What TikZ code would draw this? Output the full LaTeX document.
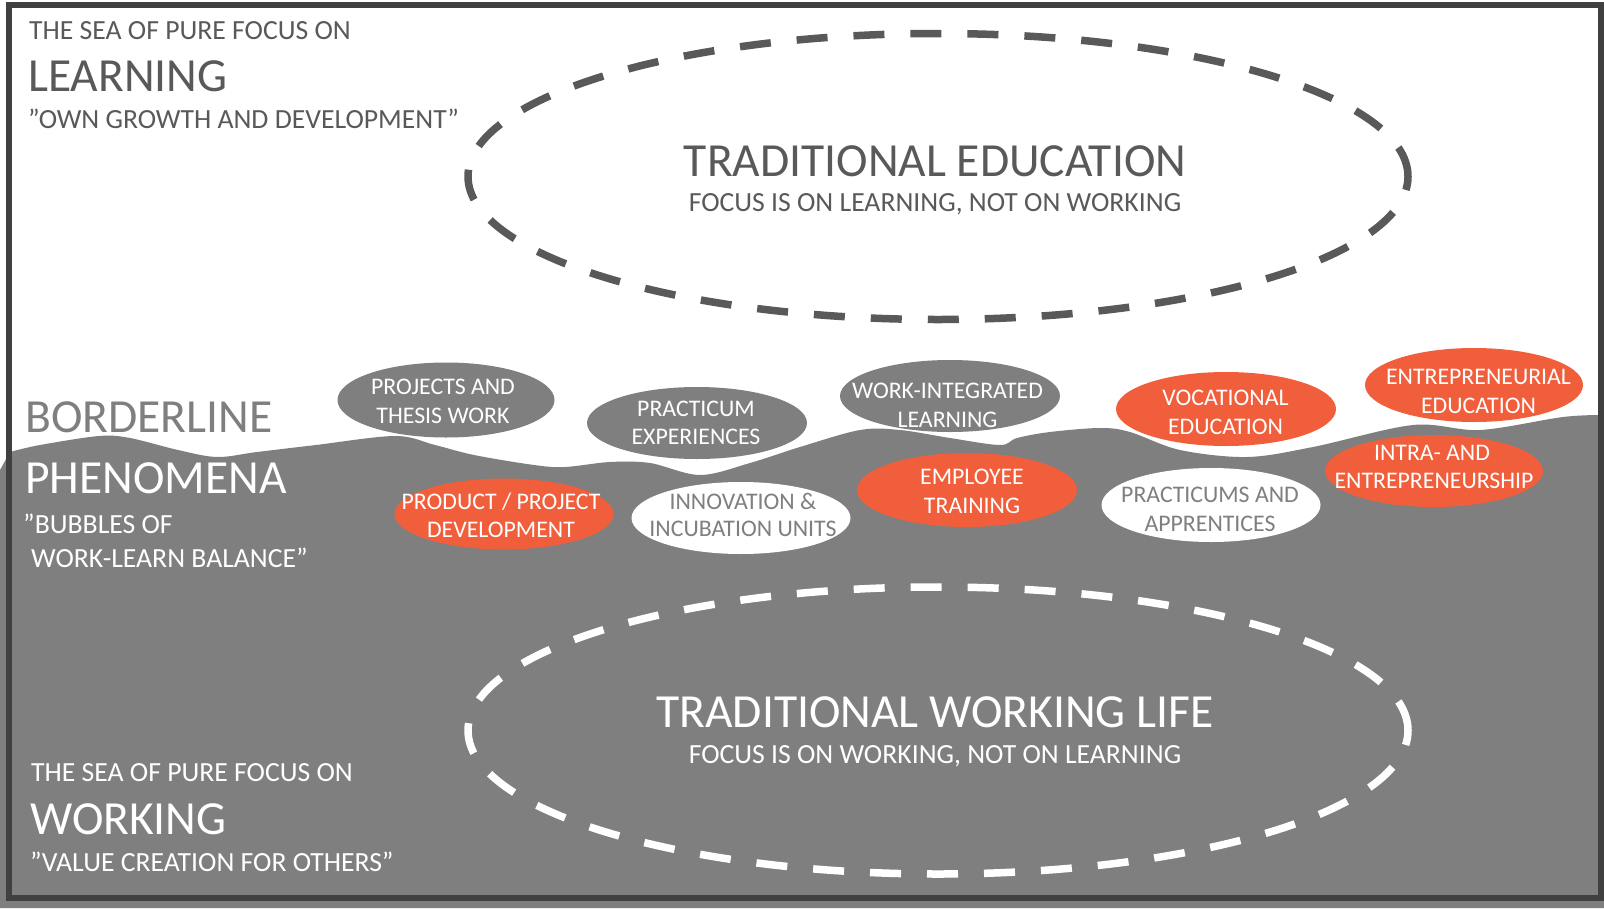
\documentclass[tikz,border=0pt]{standalone}
\usepackage{fontspec}
\setmainfont{Carlito}
\usetikzlibrary{shapes.geometric}
\definecolor{seagray}{HTML}{7F7F7F}
\definecolor{darktxt}{HTML}{595959}
\definecolor{framegray}{HTML}{404040}
\definecolor{orng}{HTML}{F15E3B}
\newcommand\myfsmall{\fontsize{27.7}{33}\selectfont}
\newcommand\myfbig{\fontsize{47.5}{57}\selectfont}
\newcommand\myfbub{\fontsize{23.8}{28}\selectfont}
\tikzset{
  bubble/.style={ellipse, inner sep=0pt},
  graybub/.style={bubble, fill=seagray},
  orangebub/.style={bubble, fill=orng},
  whitebub/.style={bubble, fill=white},
  btxt/.style={anchor=base, inner sep=0pt, font=\myfbub, text=white},
  gbtxt/.style={btxt, text=seagray},
  lbl/.style={anchor=base west, inner sep=0pt},
  ctr/.style={anchor=base, inner sep=0pt},
  dashell/.style={line width=7.5pt, dash pattern=on 31pt off 26pt}
}
\begin{document}
\begin{tikzpicture}[x=1pt,y=-1pt]
\useasboundingbox (0,0) rectangle (1604,908);
\fill[white] (0,0) rectangle (1604,908);
% gray sea with wavy border
\fill[seagray] (0,908) -- (0,470) -- plot[smooth, tension=0.55] coordinates {
 (10,452) (40,445) (99,436) (130,438) (178,450) (217,457) (257,452) (316,445)
 (395,436) (435,445) (474,455) (534,465) (565,467) (610,462) (650,463) (700,475)
 (750,463) (800,447) (860,430) (900,430) (950,438) (1000,445) (1017,438) (1050,432)
 (1100,428) (1130,432) (1180,450) (1247,457) (1313,447) (1413,425) (1480,430)
 (1563,417) (1604,415)} -- (1604,908) -- cycle;
% frame
\draw[framegray, line width=5.5pt] (9,5) rectangle (1601,898);
% dashed ellipses
\draw[darktxt, dashell] (938,176.5) ellipse [x radius=470pt, y radius=143pt];
\draw[white, dashell] (938,730.5) ellipse [x radius=470pt, y radius=143.5pt];
% texts in ellipses
\node[ctr, text=darktxt, font=\myfbig] (te) at (935,176) {TRADITIONAL EDUCATION};
\node[ctr, text=darktxt, font=\myfsmall] (tes) at (935,211) {FOCUS IS ON LEARNING, NOT ON WORKING};
\node[ctr, text=white, font=\myfbig] (tw) at (935,727) {TRADITIONAL WORKING LIFE};
\node[ctr, text=white, font=\myfsmall] (tws) at (935,763) {FOCUS IS ON WORKING, NOT ON LEARNING};
% left labels top
\node[lbl, text=darktxt, font=\myfsmall] (l1) at (29,39) {THE SEA OF PURE FOCUS ON};
\node[lbl, text=darktxt, font=\myfbig] (l2) at (28,91) {LEARNING};
\node[lbl, text=darktxt, font=\myfsmall] (l3) at (28,128) {”OWN GROWTH AND DEVELOPMENT”};
% middle labels
\node[lbl, text=seagray, font=\myfbig] (m1) at (25,432) {BORDERLINE};
\node[lbl, text=white, font=\myfbig] (m2) at (25,493) {PHENOMENA};
\node[lbl, text=white, font=\myfsmall] (m3) at (23,533) {”BUBBLES OF};
\node[lbl, text=white, font=\myfsmall] (m4) at (31,567) {WORK-LEARN BALANCE”};
% bottom labels
\node[lbl, text=white, font=\myfsmall] (b1) at (31,781) {THE SEA OF PURE FOCUS ON};
\node[lbl, text=white, font=\myfbig] (b2) at (30,834) {WORKING};
\node[lbl, text=white, font=\myfsmall] (b3) at (30,871) {”VALUE CREATION FOR OTHERS”};
% bubbles
\node[graybub, minimum width=217pt, minimum height=75pt] (p1) at (446,400) {};
\node[btxt] (p1a) at (443,394) {PROJECTS AND};
\node[btxt] (p1b) at (443,423) {THESIS WORK};
\node[graybub, minimum width=220pt, minimum height=72pt] (p2) at (697,423) {};
\node[btxt] (p2a) at (696,416) {PRACTICUM};
\node[btxt] (p2b) at (696,444.5) {EXPERIENCES};
\node[graybub, minimum width=220pt, minimum height=72pt] (p3) at (950,396) {};
\node[btxt] (p3a) at (947.5,398) {WORK-INTEGRATED};
\node[btxt] (p3b) at (947.5,427) {LEARNING};
\node[orangebub, minimum width=220pt, minimum height=74pt] (p4) at (1226,409) {};
\node[btxt] (p4a) at (1225.5,405.5) {VOCATIONAL};
\node[btxt] (p4b) at (1225.5,434) {EDUCATION};
\node[orangebub, minimum width=218pt, minimum height=74pt] (p5) at (1474,385) {};
\node[btxt] (p5a) at (1478.5,384) {ENTREPRENEURIAL};
\node[btxt] (p5b) at (1478.5,413) {EDUCATION};
\node[orangebub, minimum width=219pt, minimum height=71pt] (p6) at (504,514) {};
\node[btxt] (p6a) at (501,509) {PRODUCT / PROJECT};
\node[btxt] (p6b) at (501,537.5) {DEVELOPMENT};
\node[whitebub, minimum width=219pt, minimum height=72pt] (p7) at (741,518) {};
\node[gbtxt] (p7a) at (743,509) {INNOVATION \&};
\node[gbtxt] (p7b) at (743,536.5) {INCUBATION UNITS};
\node[orangebub, minimum width=220pt, minimum height=74pt] (p8) at (967,490) {};
\node[btxt] (p8a) at (972,484) {EMPLOYEE};
\node[btxt] (p8b) at (972,513) {TRAINING};
\node[whitebub, minimum width=219pt, minimum height=74pt] (p9) at (1211,505) {};
\node[gbtxt] (p9a) at (1210,502.5) {PRACTICUMS AND};
\node[gbtxt] (p9b) at (1210,531) {APPRENTICES};
\node[orangebub, minimum width=218pt, minimum height=72pt] (p10) at (1434,471) {};
\node[btxt] (p10a) at (1432,460) {INTRA- AND};
\node[btxt] (p10b) at (1434,488) {ENTREPRENEURSHIP};
\end{tikzpicture}
\end{document}
